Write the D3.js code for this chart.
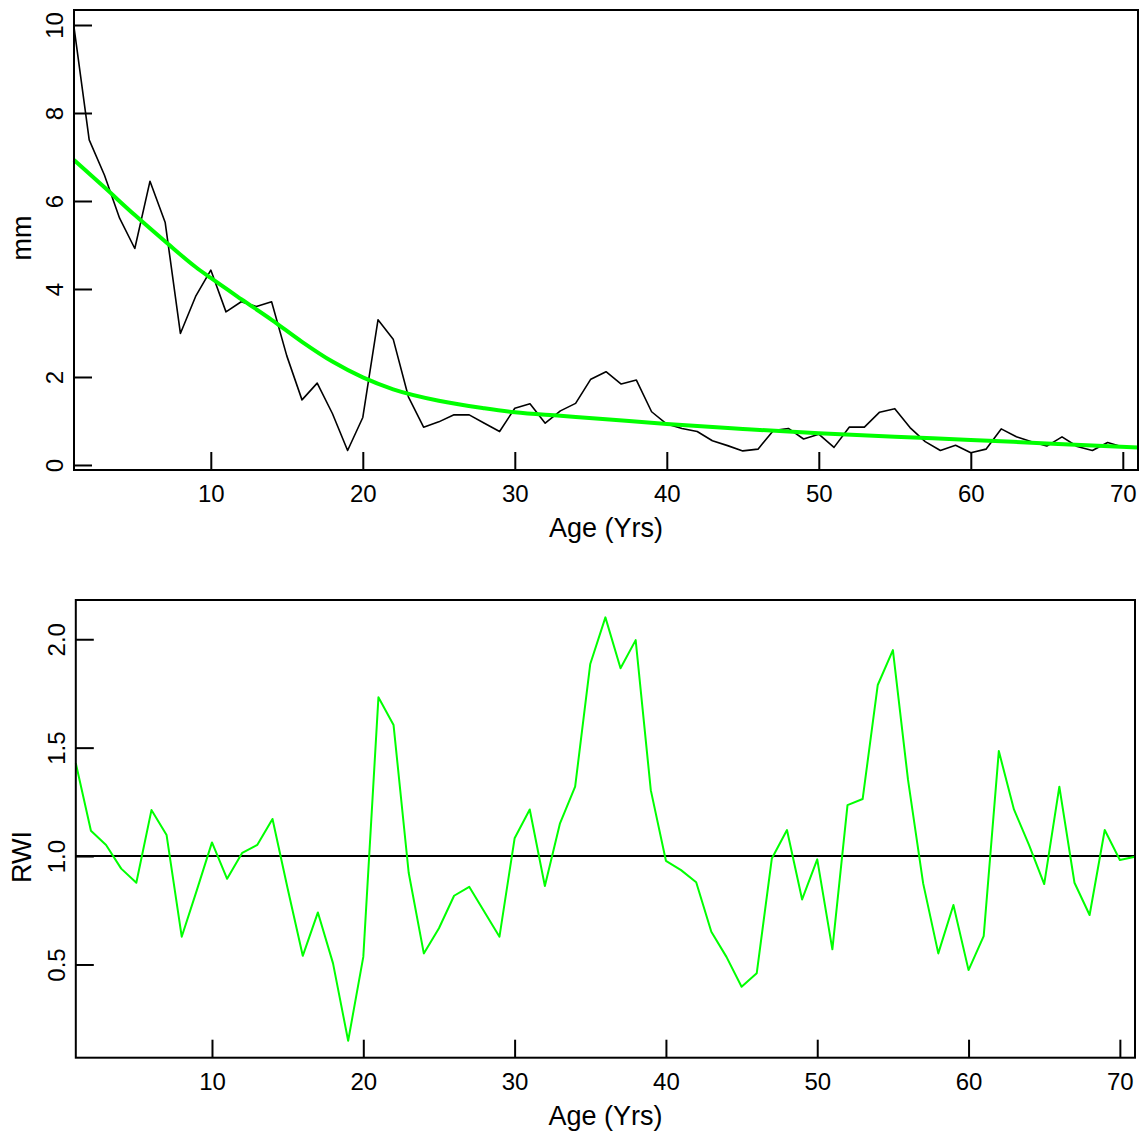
<!DOCTYPE html>
<html>
<head>
<meta charset="utf-8">
<script src="https://cdn.jsdelivr.net/npm/d3@7"></script>
<style>
  html, body { margin: 0; padding: 0; background: #fff; }
  svg { display: block; font-family: "Liberation Sans", Arial, sans-serif; }
</style>
</head>
<body>
<svg id="chart" width="1147" height="1133"></svg>
<script>
// ---- data ----
const ages = d3.range(1, 72);
const ringWidth = [
  9.95, 7.39, 6.59, 5.61, 4.92, 6.45, 5.51, 2.99, 3.83, 4.43,
  3.48, 3.71, 3.60, 3.71, 2.48, 1.48, 1.86, 1.17, 0.33, 1.08,
  3.30, 2.86, 1.55, 0.86, 0.98, 1.14, 1.14, 0.95, 0.76, 1.29,
  1.39, 0.95, 1.23, 1.40, 1.95, 2.12, 1.84, 1.93, 1.21, 0.93,
  0.83, 0.76, 0.55, 0.44, 0.32, 0.36, 0.78, 0.83, 0.59, 0.70,
  0.40, 0.86, 0.86, 1.20, 1.28, 0.85, 0.53, 0.33, 0.45, 0.28,
  0.36, 0.82, 0.64, 0.53, 0.43, 0.64, 0.42, 0.33, 0.51, 0.41, 0.40
];
const curveAges = [1, 3, 5, 7, 9, 10, 12, 14, 16, 18, 20, 22, 25, 28, 30, 33, 36, 40, 45, 50, 55, 60, 65, 71];
const curveMm   = [6.93, 6.31, 5.68, 5.08, 4.50, 4.25, 3.77, 3.30, 2.80, 2.35, 1.99, 1.72, 1.46, 1.29, 1.20, 1.12, 1.04, 0.93, 0.82, 0.72, 0.64, 0.57, 0.49, 0.40];
const rwi = [
  1.428, 1.117, 1.051, 0.942, 0.877, 1.212, 1.097, 0.628, 0.843, 1.063,
  0.895, 1.015, 1.052, 1.171, 0.850, 0.540, 0.740, 0.505, 0.148, 0.535,
  1.732, 1.604, 0.923, 0.551, 0.667, 0.817, 0.858, 0.743, 0.628, 1.082,
  1.215, 0.862, 1.151, 1.320, 1.886, 2.101, 1.866, 1.996, 1.304, 0.978,
  0.935, 0.879, 0.651, 0.535, 0.397, 0.459, 0.989, 1.120, 0.800, 0.985,
  0.570, 1.235, 1.263, 1.789, 1.950, 1.351, 0.874, 0.551, 0.774, 0.474,
  0.631, 1.484, 1.215, 1.050, 0.871, 1.320, 0.877, 0.728, 1.120, 0.982, 0.997
];
const xTicks = [10, 20, 30, 40, 50, 60, 70];
const mmTicks = [0, 2, 4, 6, 8, 10];
const rwiTicks = [0.5, 1.0, 1.5, 2.0];
const rwiTickLabels = ["0.5", "1.0", "1.5", "2.0"];
const refLine = 1.0;

// ---- drawing ----
const svg = d3.select("#chart");
const GREEN = "#00ff00";

function panel(opts) {
  const { left, right, top, bottom, yDomain, yTicks, yFmt, yLabel, yLabelY } = opts;
  const x = d3.scaleLinear().domain([1, 71]).range([left, right]);
  const y = d3.scaleLinear().domain(yDomain).range([bottom, top]);
  const g = svg.append("g");

  // x axis
  const ax = g.append("g").attr("transform", `translate(0,${bottom})`)
    .call(d3.axisBottom(x).tickValues(xTicks).tickSize(-18).tickPadding(15).tickFormat(d3.format("d")));
  ax.select(".domain").remove();
  ax.selectAll(".tick line").attr("stroke", "#000").attr("stroke-width", 2);
  ax.selectAll(".tick text").attr("font-size", 24).attr("fill", "#000")
    .attr("font-family", "Liberation Sans, Arial, sans-serif");

  // y axis
  const ay = g.append("g").attr("transform", `translate(${left},0)`)
    .call(d3.axisLeft(y).tickValues(yTicks).tickSize(-18).tickFormat(yFmt));
  ay.select(".domain").remove();
  ay.selectAll(".tick line").attr("stroke", "#000").attr("stroke-width", 2);
  ay.selectAll(".tick text")
    .attr("x", null).attr("dy", null)
    .attr("transform", "translate(-11,0) rotate(-90)")
    .attr("text-anchor", "middle")
    .attr("font-size", 24).attr("fill", "#000")
    .attr("font-family", "Liberation Sans, Arial, sans-serif");

  // titles
  g.append("text").attr("x", (left + right) / 2).attr("y", bottom + 67)
    .attr("text-anchor", "middle").attr("font-size", 27).text("Age (Yrs)");
  g.append("text").attr("transform", `translate(31,${yLabelY}) rotate(-90)`)
    .attr("text-anchor", "middle").attr("font-size", 27).text(yLabel);

  return { g, x, y, left, right, top, bottom };
}

// top panel
const P1 = panel({ left: 74, right: 1138, top: 10, bottom: 470,
  yDomain: [-0.114, 10.341], yTicks: mmTicks, yFmt: d3.format("d"),
  yLabel: "mm", yLabelY: 238 });
P1.g.append("path")
  .datum(ages.map((a, i) => [a, ringWidth[i]]))
  .attr("fill", "none").attr("stroke", "#000").attr("stroke-width", 1.6)
  .attr("stroke-linejoin", "round")
  .attr("d", d3.line().x(d => P1.x(d[0])).y(d => P1.y(d[1])));
P1.g.append("path")
  .datum(curveAges.map((a, i) => [a, curveMm[i]]))
  .attr("fill", "none").attr("stroke", GREEN).attr("stroke-width", 4)
  .attr("d", d3.line().curve(d3.curveMonotoneX).x(d => P1.x(d[0])).y(d => P1.y(d[1])));
P1.g.append("rect").attr("x", P1.left).attr("y", P1.top)
  .attr("width", P1.right - P1.left).attr("height", P1.bottom - P1.top)
  .attr("fill", "none").attr("stroke", "#000").attr("stroke-width", 2);

// bottom panel
const P2 = panel({ left: 75.8, right: 1135, top: 600, bottom: 1057.7,
  yDomain: [0.070, 2.181], yTicks: rwiTicks, yFmt: (d, i) => rwiTickLabels[i],
  yLabel: "RWI", yLabelY: 857 });
P2.g.append("line")
  .attr("x1", P2.left).attr("x2", P2.right)
  .attr("y1", P2.y(refLine)).attr("y2", P2.y(refLine))
  .attr("stroke", "#000").attr("stroke-width", 2);
P2.g.append("path")
  .datum(ages.map((a, i) => [a, rwi[i]]))
  .attr("fill", "none").attr("stroke", GREEN).attr("stroke-width", 2)
  .attr("stroke-linejoin", "round")
  .attr("d", d3.line().x(d => P2.x(d[0])).y(d => P2.y(d[1])));
P2.g.append("rect").attr("x", P2.left).attr("y", P2.top)
  .attr("width", P2.right - P2.left).attr("height", P2.bottom - P2.top)
  .attr("fill", "none").attr("stroke", "#000").attr("stroke-width", 2);
</script>
</body>
</html>
